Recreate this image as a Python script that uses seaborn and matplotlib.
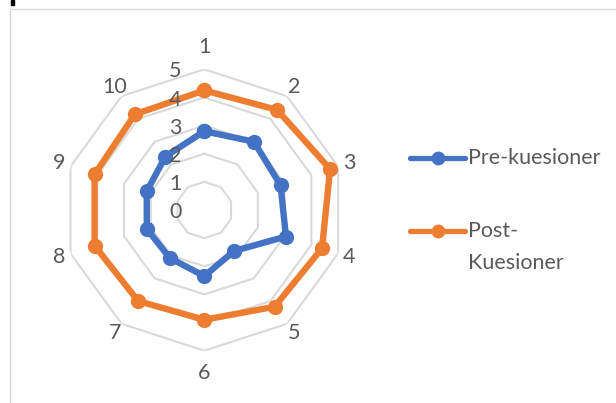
import numpy as np
import pandas as pd
import matplotlib
matplotlib.use("Agg")
import matplotlib.pyplot as plt
import matplotlib.transforms as mtransforms
from matplotlib.lines import Line2D
from matplotlib.patches import Rectangle
import seaborn as sns

# data
items = ["1", "2", "3", "4", "5", "6", "7", "8", "9", "10"]
pre_kuesioner = [2.8, 3.0, 2.85, 3.05, 1.8, 2.35, 2.1, 2.15, 2.15, 2.35]
post_kuesioner = [4.25, 4.4, 4.7, 4.4, 4.25, 3.9, 4.0, 4.1, 4.1, 4.2]
ring_values = [0, 1, 2, 3, 4, 5]
series_names = ["Pre-kuesioner", "Post-Kuesioner"]

BLUE = "#4472C4"
ORANGE = "#ED7D31"
GRID = "#D9D9D9"
TXT = "#595959"
FS = 15.5

plt.rcParams["font.family"] = ["Lato", "DejaVu Sans"]

n = len(items)
angles = np.linspace(0, 2 * np.pi, n, endpoint=False)
angles_closed = np.append(angles, 2 * np.pi)

rows = []
for name, vals in zip(series_names, [pre_kuesioner, post_kuesioner]):
    for a, v in zip(angles_closed, vals + vals[:1]):
        rows.append({"series": name, "theta": a, "value": v})
df = pd.DataFrame(rows)

fig = plt.figure(figsize=(6.16, 4.03), dpi=100)

# chart frame
fig.patches.append(Rectangle((9.5 / 616, -0.01), 1.0, (403 - 9.5) / 403 + 0.01,
                             transform=fig.transFigure, fill=False,
                             edgecolor=GRID, lw=1.0))
fig.patches.append(Rectangle((11 / 616, 1 - 5 / 403), 3 / 616, 5 / 403,
                             transform=fig.transFigure, color="black"))

cx, cy, R = 204.3, 210.0, 140.7
ax = fig.add_axes([(cx - R) / 616, (403 - cy - R) / 403, 2 * R / 616, 2 * R / 403],
                  projection="polar")
ax.set_theta_zero_location("N")
ax.set_theta_direction(-1)
ax.set_ylim(0, 5)
ax.grid(False)
ax.spines["polar"].set_visible(False)
ax.set_xticks([])
ax.set_yticks([])
ax.patch.set_alpha(0)

# decagon grid rings
for r in ring_values[1:]:
    ax.plot(angles_closed, [r] * (n + 1), color=GRID, lw=1.5, zorder=1)

sns.lineplot(data=df, x="theta", y="value", hue="series", hue_order=series_names,
             palette=[BLUE, ORANGE], marker="o", markersize=11, markeredgewidth=0,
             linewidth=4.6, sort=False, legend=False, ax=ax, zorder=3)
ax.set_xlabel("")
ax.set_ylabel("")

# radial value labels
off = mtransforms.offset_copy(ax.transData, fig=fig, x=-21, y=-1.5, units="points")
for r in ring_values:
    ax.text(0, r, str(r), transform=off, ha="center", va="center",
            fontsize=FS, color=TXT)

# category labels
for a, lab in zip(angles, items):
    rr = 5.78 if abs(np.cos(a)) > 0.95 else 5.42
    ax.text(a, rr, lab, ha="center", va="center", fontsize=FS, color=TXT)

# legend
x0, x1 = 410 / 616, 465 / 616
for y, col in [(157.7, BLUE), (231.0, ORANGE)]:
    yf = 1 - y / 403
    fig.lines.append(Line2D([x0, x1], [yf, yf], transform=fig.transFigure,
                            color=col, lw=3.8, solid_capstyle="round"))
    fig.lines.append(Line2D([(x0 + x1) / 2], [yf], transform=fig.transFigure,
                            color=col, marker="o", markersize=10, markeredgewidth=0))
fig.text(468 / 616, 1 - 158 / 403, "Pre-kuesioner", ha="left", va="center",
         fontsize=FS, color=TXT)
fig.text(468 / 616, 1 - 231 / 403, "Post-", ha="left", va="center",
         fontsize=FS, color=TXT)
fig.text(468 / 616, 1 - 263 / 403, "Kuesioner", ha="left", va="center",
         fontsize=FS, color=TXT)

fig.savefig("out.png", dpi=100)
